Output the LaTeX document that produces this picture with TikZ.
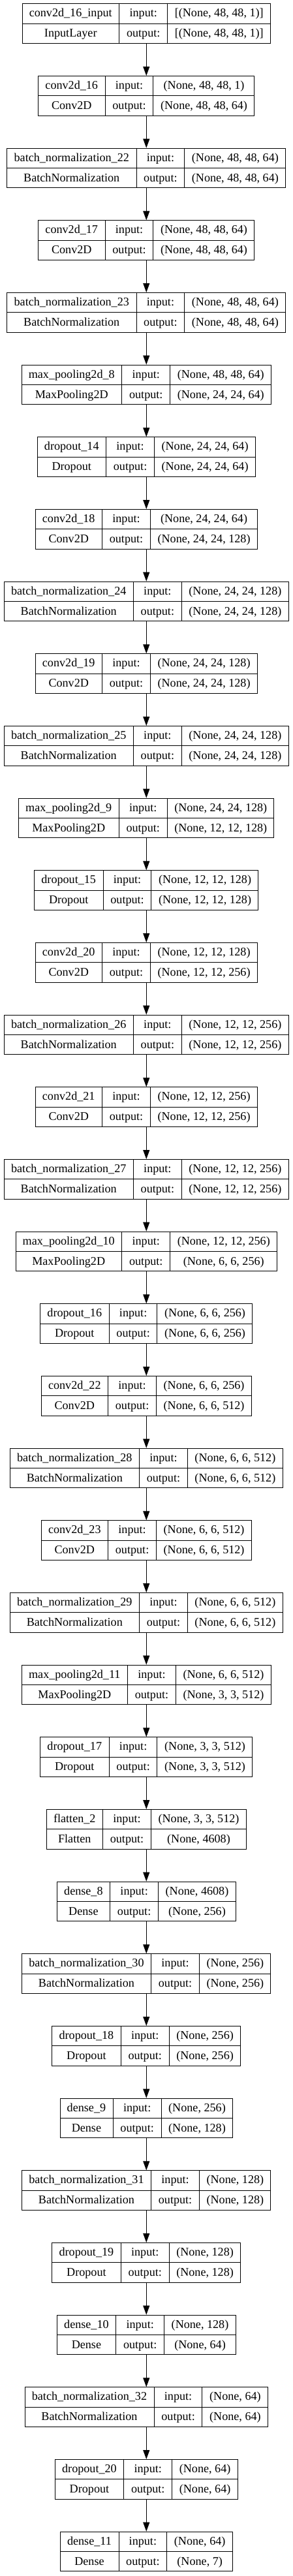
\documentclass[tikz,border=0pt]{standalone}
\usepackage{fontspec}
\setmainfont{Liberation Serif}
\usepackage{array}
\usetikzlibrary{arrows.meta}

\newcolumntype{C}{>{\rule[-7.4pt]{0pt}{22.4pt}}c}
\setlength{\tabcolsep}{8pt}
\setlength{\arrayrulewidth}{0.75pt}
\newcommand{\rec}[4]{\begin{tabular}{C|C|C}#1&input:&#3\\\hline#2&output:&#4\end{tabular}}

\begin{document}
\begin{tikzpicture}[node distance=83pt,
  layer/.style={draw, line width=0.75pt, inner sep=0pt, font=\fontsize{13.6}{16}\selectfont},
  link/.style={-{Triangle[length=10.5pt,width=7.5pt]}, line width=0.75pt}]
  \useasboundingbox (-168.2pt,27.15pt) rectangle (168.5pt,-2933.1pt);
  \node[layer] (l1) {\rec{conv2d\_16\_input}{InputLayer}{[(None, 48, 48, 1)]}{[(None, 48, 48, 1)]}};
  \node[layer, below of=l1] (l2) {\rec{conv2d\_16}{Conv2D}{(None, 48, 48, 1)}{(None, 48, 48, 64)}};
  \node[layer, below of=l2] (l3) {\rec{batch\_normalization\_22}{BatchNormalization}{(None, 48, 48, 64)}{(None, 48, 48, 64)}};
  \node[layer, below of=l3] (l4) {\rec{conv2d\_17}{Conv2D}{(None, 48, 48, 64)}{(None, 48, 48, 64)}};
  \node[layer, below of=l4] (l5) {\rec{batch\_normalization\_23}{BatchNormalization}{(None, 48, 48, 64)}{(None, 48, 48, 64)}};
  \node[layer, below of=l5] (l6) {\rec{max\_pooling2d\_8}{MaxPooling2D}{(None, 48, 48, 64)}{(None, 24, 24, 64)}};
  \node[layer, below of=l6] (l7) {\rec{dropout\_14}{Dropout}{(None, 24, 24, 64)}{(None, 24, 24, 64)}};
  \node[layer, below of=l7] (l8) {\rec{conv2d\_18}{Conv2D}{(None, 24, 24, 64)}{(None, 24, 24, 128)}};
  \node[layer, below of=l8] (l9) {\rec{batch\_normalization\_24}{BatchNormalization}{(None, 24, 24, 128)}{(None, 24, 24, 128)}};
  \node[layer, below of=l9] (l10) {\rec{conv2d\_19}{Conv2D}{(None, 24, 24, 128)}{(None, 24, 24, 128)}};
  \node[layer, below of=l10] (l11) {\rec{batch\_normalization\_25}{BatchNormalization}{(None, 24, 24, 128)}{(None, 24, 24, 128)}};
  \node[layer, below of=l11] (l12) {\rec{max\_pooling2d\_9}{MaxPooling2D}{(None, 24, 24, 128)}{(None, 12, 12, 128)}};
  \node[layer, below of=l12] (l13) {\rec{dropout\_15}{Dropout}{(None, 12, 12, 128)}{(None, 12, 12, 128)}};
  \node[layer, below of=l13] (l14) {\rec{conv2d\_20}{Conv2D}{(None, 12, 12, 128)}{(None, 12, 12, 256)}};
  \node[layer, below of=l14] (l15) {\rec{batch\_normalization\_26}{BatchNormalization}{(None, 12, 12, 256)}{(None, 12, 12, 256)}};
  \node[layer, below of=l15] (l16) {\rec{conv2d\_21}{Conv2D}{(None, 12, 12, 256)}{(None, 12, 12, 256)}};
  \node[layer, below of=l16] (l17) {\rec{batch\_normalization\_27}{BatchNormalization}{(None, 12, 12, 256)}{(None, 12, 12, 256)}};
  \node[layer, below of=l17] (l18) {\rec{max\_pooling2d\_10}{MaxPooling2D}{(None, 12, 12, 256)}{(None, 6, 6, 256)}};
  \node[layer, below of=l18] (l19) {\rec{dropout\_16}{Dropout}{(None, 6, 6, 256)}{(None, 6, 6, 256)}};
  \node[layer, below of=l19] (l20) {\rec{conv2d\_22}{Conv2D}{(None, 6, 6, 256)}{(None, 6, 6, 512)}};
  \node[layer, below of=l20] (l21) {\rec{batch\_normalization\_28}{BatchNormalization}{(None, 6, 6, 512)}{(None, 6, 6, 512)}};
  \node[layer, below of=l21] (l22) {\rec{conv2d\_23}{Conv2D}{(None, 6, 6, 512)}{(None, 6, 6, 512)}};
  \node[layer, below of=l22] (l23) {\rec{batch\_normalization\_29}{BatchNormalization}{(None, 6, 6, 512)}{(None, 6, 6, 512)}};
  \node[layer, below of=l23] (l24) {\rec{max\_pooling2d\_11}{MaxPooling2D}{(None, 6, 6, 512)}{(None, 3, 3, 512)}};
  \node[layer, below of=l24] (l25) {\rec{dropout\_17}{Dropout}{(None, 3, 3, 512)}{(None, 3, 3, 512)}};
  \node[layer, below of=l25] (l26) {\rec{flatten\_2}{Flatten}{(None, 3, 3, 512)}{(None, 4608)}};
  \node[layer, below of=l26] (l27) {\rec{dense\_8}{Dense}{(None, 4608)}{(None, 256)}};
  \node[layer, below of=l27] (l28) {\rec{batch\_normalization\_30}{BatchNormalization}{(None, 256)}{(None, 256)}};
  \node[layer, below of=l28] (l29) {\rec{dropout\_18}{Dropout}{(None, 256)}{(None, 256)}};
  \node[layer, below of=l29] (l30) {\rec{dense\_9}{Dense}{(None, 256)}{(None, 128)}};
  \node[layer, below of=l30] (l31) {\rec{batch\_normalization\_31}{BatchNormalization}{(None, 128)}{(None, 128)}};
  \node[layer, below of=l31] (l32) {\rec{dropout\_19}{Dropout}{(None, 128)}{(None, 128)}};
  \node[layer, below of=l32] (l33) {\rec{dense\_10}{Dense}{(None, 128)}{(None, 64)}};
  \node[layer, below of=l33] (l34) {\rec{batch\_normalization\_32}{BatchNormalization}{(None, 64)}{(None, 64)}};
  \node[layer, below of=l34] (l35) {\rec{dropout\_20}{Dropout}{(None, 64)}{(None, 64)}};
  \node[layer, below of=l35] (l36) {\rec{dense\_11}{Dense}{(None, 64)}{(None, 7)}};
 \path[link]
  (l1) edge (l2)
  (l2) edge (l3)
  (l3) edge (l4)
  (l4) edge (l5)
  (l5) edge (l6)
  (l6) edge (l7)
  (l7) edge (l8)
  (l8) edge (l9)
  (l9) edge (l10)
  (l10) edge (l11)
  (l11) edge (l12)
  (l12) edge (l13)
  (l13) edge (l14)
  (l14) edge (l15)
  (l15) edge (l16)
  (l16) edge (l17)
  (l17) edge (l18)
  (l18) edge (l19)
  (l19) edge (l20)
  (l20) edge (l21)
  (l21) edge (l22)
  (l22) edge (l23)
  (l23) edge (l24)
  (l24) edge (l25)
  (l25) edge (l26)
  (l26) edge (l27)
  (l27) edge (l28)
  (l28) edge (l29)
  (l29) edge (l30)
  (l30) edge (l31)
  (l31) edge (l32)
  (l32) edge (l33)
  (l33) edge (l34)
  (l34) edge (l35)
  (l35) edge (l36);
\end{tikzpicture}
\end{document}
